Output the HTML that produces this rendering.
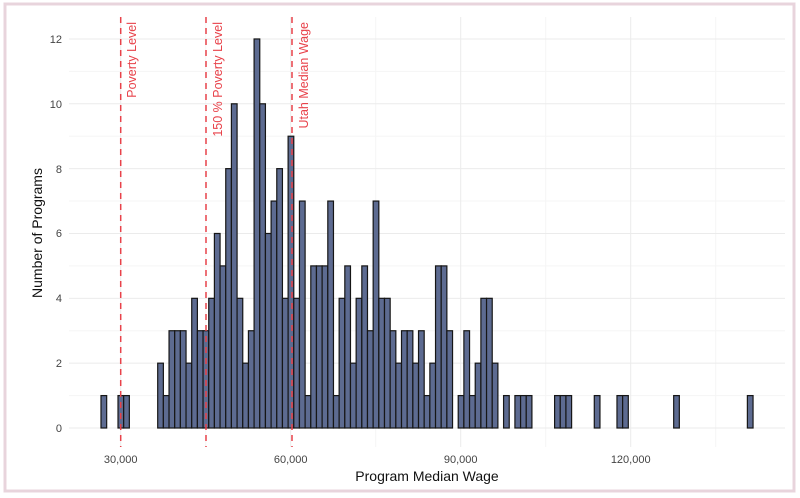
<!DOCTYPE html>
<html><head><meta charset="utf-8"><style>
html,body{margin:0;padding:0;background:#fff}
svg{display:block;font-family:"Liberation Sans",sans-serif}
.b rect{fill:#5d6b91;stroke:#161616;stroke-width:1.2}
.gm{stroke:#ebebeb;stroke-width:1}
.gn{stroke:#f5f5f5;stroke-width:1}
.d{stroke:#e8424a;stroke-width:1.5;stroke-dasharray:6 5}
.t{font-size:11px;fill:#444}
.r{font-size:12.5px;fill:#e8424a}
</style></head><body>
<svg width="800" height="498" viewBox="0 0 800 498">
<rect x="5" y="4" width="789" height="487" fill="#fff" stroke="#e8d4dc" stroke-width="3"/>
<g>
<line class="gn" x1="69" x2="785" y1="395.58" y2="395.58"/>
<line class="gn" x1="69" x2="785" y1="330.74" y2="330.74"/>
<line class="gn" x1="69" x2="785" y1="265.9" y2="265.9"/>
<line class="gn" x1="69" x2="785" y1="201.06" y2="201.06"/>
<line class="gn" x1="69" x2="785" y1="136.22" y2="136.22"/>
<line class="gn" x1="69" x2="785" y1="71.38" y2="71.38"/>
<line class="gn" x1="205.7" x2="205.7" y1="17" y2="447"/>
<line class="gn" x1="375.7" x2="375.7" y1="17" y2="447"/>
<line class="gn" x1="545.7" x2="545.7" y1="17" y2="447"/>
<line class="gn" x1="715.7" x2="715.7" y1="17" y2="447"/>
<line class="gm" x1="69" x2="785" y1="428" y2="428"/>
<line class="gm" x1="69" x2="785" y1="363.16" y2="363.16"/>
<line class="gm" x1="69" x2="785" y1="298.32" y2="298.32"/>
<line class="gm" x1="69" x2="785" y1="233.48" y2="233.48"/>
<line class="gm" x1="69" x2="785" y1="168.64" y2="168.64"/>
<line class="gm" x1="69" x2="785" y1="103.8" y2="103.8"/>
<line class="gm" x1="69" x2="785" y1="38.96" y2="38.96"/>
<line class="gm" x1="120.7" x2="120.7" y1="17" y2="447"/>
<line class="gm" x1="290.7" x2="290.7" y1="17" y2="447"/>
<line class="gm" x1="460.7" x2="460.7" y1="17" y2="447"/>
<line class="gm" x1="630.7" x2="630.7" y1="17" y2="447"/>
</g>
<g class="b">
<rect x="101" y="395.58" width="5.67" height="32.42"/>
<rect x="118.01" y="395.58" width="5.67" height="32.42"/>
<rect x="123.68" y="395.58" width="5.67" height="32.42"/>
<rect x="157.7" y="363.16" width="5.67" height="64.84"/>
<rect x="163.37" y="395.58" width="5.67" height="32.42"/>
<rect x="169.04" y="330.74" width="5.67" height="97.26"/>
<rect x="174.71" y="330.74" width="5.67" height="97.26"/>
<rect x="180.38" y="330.74" width="5.67" height="97.26"/>
<rect x="186.05" y="363.16" width="5.67" height="64.84"/>
<rect x="191.72" y="298.32" width="5.67" height="129.68"/>
<rect x="197.39" y="330.74" width="5.67" height="97.26"/>
<rect x="203.06" y="330.74" width="5.67" height="97.26"/>
<rect x="208.73" y="298.32" width="5.67" height="129.68"/>
<rect x="214.4" y="233.48" width="5.67" height="194.52"/>
<rect x="220.07" y="265.9" width="5.67" height="162.1"/>
<rect x="225.74" y="168.64" width="5.67" height="259.36"/>
<rect x="231.41" y="103.8" width="5.67" height="324.2"/>
<rect x="237.08" y="298.32" width="5.67" height="129.68"/>
<rect x="242.75" y="363.16" width="5.67" height="64.84"/>
<rect x="248.42" y="330.74" width="5.67" height="97.26"/>
<rect x="254.09" y="38.96" width="5.67" height="389.04"/>
<rect x="259.76" y="103.8" width="5.67" height="324.2"/>
<rect x="265.43" y="233.48" width="5.67" height="194.52"/>
<rect x="271.1" y="201.06" width="5.67" height="226.94"/>
<rect x="276.77" y="168.64" width="5.67" height="259.36"/>
<rect x="282.44" y="298.32" width="5.67" height="129.68"/>
<rect x="288.11" y="136.22" width="5.67" height="291.78"/>
<rect x="293.78" y="298.32" width="5.67" height="129.68"/>
<rect x="299.45" y="201.06" width="5.67" height="226.94"/>
<rect x="305.12" y="395.58" width="5.67" height="32.42"/>
<rect x="310.79" y="265.9" width="5.67" height="162.1"/>
<rect x="316.46" y="265.9" width="5.67" height="162.1"/>
<rect x="322.13" y="265.9" width="5.67" height="162.1"/>
<rect x="327.8" y="201.06" width="5.67" height="226.94"/>
<rect x="333.47" y="395.58" width="5.67" height="32.42"/>
<rect x="339.14" y="298.32" width="5.67" height="129.68"/>
<rect x="344.81" y="265.9" width="5.67" height="162.1"/>
<rect x="350.48" y="363.16" width="5.67" height="64.84"/>
<rect x="356.15" y="298.32" width="5.67" height="129.68"/>
<rect x="361.82" y="265.9" width="5.67" height="162.1"/>
<rect x="367.49" y="330.74" width="5.67" height="97.26"/>
<rect x="373.16" y="201.06" width="5.67" height="226.94"/>
<rect x="378.83" y="298.32" width="5.67" height="129.68"/>
<rect x="384.5" y="298.32" width="5.67" height="129.68"/>
<rect x="390.17" y="330.74" width="5.67" height="97.26"/>
<rect x="395.84" y="363.16" width="5.67" height="64.84"/>
<rect x="401.51" y="330.74" width="5.67" height="97.26"/>
<rect x="407.18" y="330.74" width="5.67" height="97.26"/>
<rect x="412.85" y="363.16" width="5.67" height="64.84"/>
<rect x="418.52" y="330.74" width="5.67" height="97.26"/>
<rect x="424.19" y="395.58" width="5.67" height="32.42"/>
<rect x="429.86" y="363.16" width="5.67" height="64.84"/>
<rect x="435.53" y="265.9" width="5.67" height="162.1"/>
<rect x="441.2" y="265.9" width="5.67" height="162.1"/>
<rect x="446.87" y="330.74" width="5.67" height="97.26"/>
<rect x="458.21" y="395.58" width="5.67" height="32.42"/>
<rect x="463.88" y="330.74" width="5.67" height="97.26"/>
<rect x="469.55" y="395.58" width="5.67" height="32.42"/>
<rect x="475.22" y="363.16" width="5.67" height="64.84"/>
<rect x="480.89" y="298.32" width="5.67" height="129.68"/>
<rect x="486.56" y="298.32" width="5.67" height="129.68"/>
<rect x="492.23" y="363.16" width="5.67" height="64.84"/>
<rect x="503.57" y="395.58" width="5.67" height="32.42"/>
<rect x="514.91" y="395.58" width="5.67" height="32.42"/>
<rect x="520.58" y="395.58" width="5.67" height="32.42"/>
<rect x="526.25" y="395.58" width="5.67" height="32.42"/>
<rect x="554.6" y="395.58" width="5.67" height="32.42"/>
<rect x="560.27" y="395.58" width="5.67" height="32.42"/>
<rect x="565.94" y="395.58" width="5.67" height="32.42"/>
<rect x="594.29" y="395.58" width="5.67" height="32.42"/>
<rect x="616.97" y="395.58" width="5.67" height="32.42"/>
<rect x="622.64" y="395.58" width="5.67" height="32.42"/>
<rect x="673.67" y="395.58" width="5.67" height="32.42"/>
<rect x="747.38" y="395.58" width="5.67" height="32.42"/>
</g>
<line class="d" x1="120.7" x2="120.7" y1="17" y2="447"/>
<line class="d" x1="206" x2="206" y1="17" y2="447"/>
<line class="d" x1="292" x2="292" y1="17" y2="447"/>
<text class="r" transform="translate(136,22) rotate(-90)" text-anchor="end">Poverty Level</text>
<text class="r" transform="translate(222,22) rotate(-90)" text-anchor="end">150 % Poverty Level</text>
<text class="r" transform="translate(308,22) rotate(-90)" text-anchor="end">Utah Median Wage</text>
<g class="t" text-anchor="end">
<text x="62" y="432">0</text>
<text x="62" y="367">2</text>
<text x="62" y="302">4</text>
<text x="62" y="237">6</text>
<text x="62" y="173">8</text>
<text x="62" y="108">10</text>
<text x="62" y="43">12</text>
</g>
<g class="t" text-anchor="middle">
<text x="120.7" y="463">30,000</text>
<text x="290.7" y="463">60,000</text>
<text x="460.7" y="463">90,000</text>
<text x="630.7" y="463">120,000</text>
</g>
<text x="427" y="481" text-anchor="middle" font-size="14" fill="#111">Program Median Wage</text>
<text transform="translate(42,233) rotate(-90)" text-anchor="middle" font-size="14" fill="#111">Number of Programs</text>
</svg>
</body></html>
